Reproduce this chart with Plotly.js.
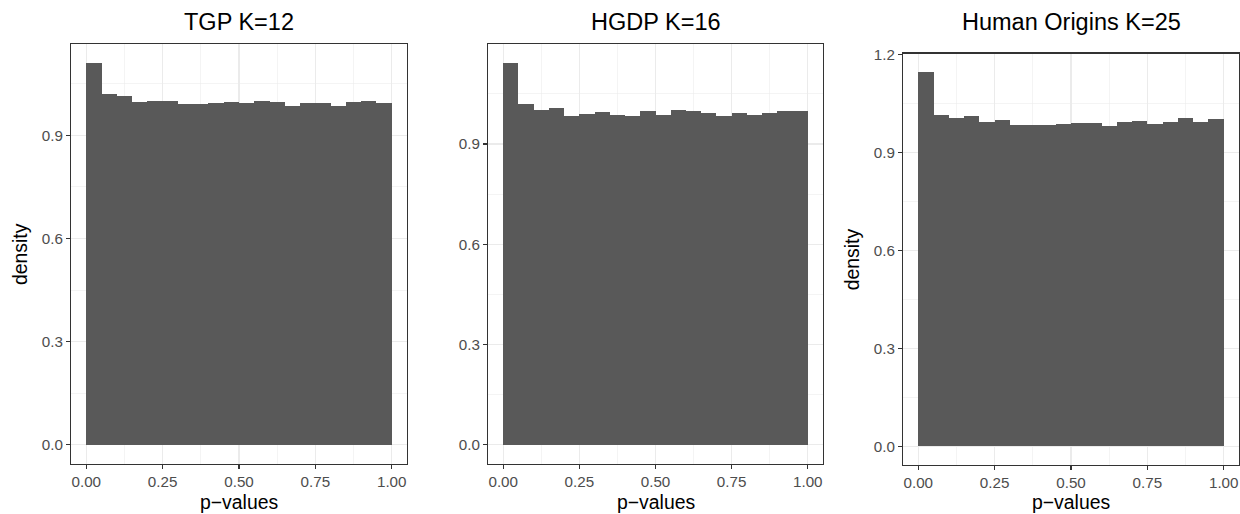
<!DOCTYPE html>
<html>
<head>
<meta charset="utf-8">
<script src="https://cdn.plot.ly/plotly-3.0.1.min.js"></script>
<style>html,body{margin:0;padding:0;background:#fff;}#chart{width:1240px;height:514px;}</style>
</head>
<body>
<div id="chart"></div>
<script>
// Bin left edges (p-values), bin width 0.05
var binStarts = [0.00,0.05,0.10,0.15,0.20,0.25,0.30,0.35,0.40,0.45,0.50,0.55,0.60,0.65,0.70,0.75,0.80,0.85,0.90,0.95];
var binWidth = 0.05;

var panelTitles = ["TGP K=12", "HGDP K=16", "Human Origins K=25"];

var densityTGP = [1.110,1.020,1.013,0.997,0.999,0.999,0.991,0.991,0.994,0.996,0.994,1.001,0.996,0.984,0.993,0.993,0.984,0.996,0.999,0.994];
var densityHGDP = [1.142,1.020,1.003,1.008,0.984,0.991,0.997,0.987,0.984,1.000,0.987,1.003,1.000,0.994,0.984,0.994,0.987,0.994,1.000,1.000];
var densityHO = [1.145,1.014,1.005,1.010,0.993,0.998,0.983,0.983,0.983,0.986,0.989,0.989,0.980,0.993,0.996,0.986,0.993,1.004,0.993,1.001];

var xTickVals = [0, 0.25, 0.5, 0.75, 1];
var xTickText = ["0.00", "0.25", "0.50", "0.75", "1.00"];
var yTickVals = [0, 0.3, 0.6, 0.9, 1.2];
var yTickText = ["0.0", "0.3", "0.6", "0.9", "1.2"];

var series = [densityTGP, densityHGDP, densityHO];

// panel pixel boxes [left, right, top, bottom]
var W = 1240, H = 514;
var boxes = [[71, 407, 44, 464], [488, 823, 44, 464], [903, 1239, 53.5, 465]];

var FONT = "Liberation Sans, Arial, Helvetica, sans-serif";
var traces = [];
var layout = {
  width: W, height: H,
  margin: {l: 0, r: 0, t: 0, b: 0},
  paper_bgcolor: "#ffffff",
  plot_bgcolor: "#ffffff",
  showlegend: false,
  bargap: 0,
  font: {family: FONT, color: "#4D4D4D"},
  annotations: []
};

series.forEach(function (vals, i) {
  var n = i + 1;
  var xa = "x" + (n === 1 ? "" : n), ya = "y" + (n === 1 ? "" : n);
  traces.push({
    type: "bar",
    x: binStarts,
    y: vals,
    width: binWidth,
    offset: 0,
    marker: {color: "#595959", line: {width: 0}},
    xaxis: xa, yaxis: ya,
    hoverinfo: "x+y"
  });
  var b = boxes[i];
  var maxV = Math.max.apply(null, vals);
  var common = {
    showline: true, mirror: true, linecolor: "#333333", linewidth: 1.1,
    ticks: "outside", ticklen: 4, tickwidth: 1.1, tickcolor: "#333333",
    tickfont: {family: FONT, size: 15.2, color: "#4D4D4D"},
    showgrid: true, gridcolor: "#EBEBEB", gridwidth: 1.1,
    zeroline: false, fixedrange: true
  };
  layout["xaxis" + (n === 1 ? "" : n)] = Object.assign({}, common, {
    anchor: ya,
    domain: [b[0] / W, b[1] / W],
    range: [-0.05, 1.05],
    tickmode: "array", tickvals: xTickVals, ticktext: xTickText,
    minor: {tickvals: [0.125, 0.375, 0.625, 0.875], showgrid: true, gridcolor: "#EBEBEB", gridwidth: 0.55, ticks: ""}
  });
  var tv = [], tt = [], mv = [];
  yTickVals.forEach(function (v, k) { if (v <= maxV * 1.05 + 1e-9) { tv.push(v); tt.push(yTickText[k]); } });
  [0.15, 0.45, 0.75, 1.05].forEach(function (v) { if (v <= maxV * 1.05 + 1e-9) mv.push(v); });
  layout["yaxis" + (n === 1 ? "" : n)] = Object.assign({}, common, {
    anchor: xa,
    domain: [(H - b[3]) / H, (H - b[2]) / H],
    range: [-0.05 * maxV, 1.05 * maxV],
    tickmode: "array", tickvals: tv, ticktext: tt,
    minor: {tickvals: mv, showgrid: true, gridcolor: "#EBEBEB", gridwidth: 0.55, ticks: ""}
  });
  var cx = (b[0] + b[1]) / 2 / W;
  layout.annotations.push({
    text: panelTitles[i], xref: "paper", yref: "paper",
    x: cx, y: (H - 22) / H, xanchor: "center", yanchor: "middle",
    showarrow: false, font: {family: FONT, size: 23.5, color: "#000000"}
  });
  layout.annotations.push({
    text: "p\u2212values", xref: "paper", yref: "paper",
    x: cx, y: (H - 502) / H, xanchor: "center", yanchor: "middle",
    showarrow: false, font: {family: FONT, size: 19.4, color: "#000000"}
  });
  if (i !== 1) {
    layout.annotations.push({
      text: "density", xref: "paper", yref: "paper",
      x: (b[0] - 51) / W, y: (H - (b[2] + b[3]) / 2) / H, xanchor: "center", yanchor: "middle",
      textangle: -90,
      showarrow: false, font: {family: FONT, size: 19.4, color: "#000000"}
    });
  }
});

Plotly.newPlot("chart", traces, layout, {displayModeBar: false, staticPlot: true});
</script>
</body>
</html>
